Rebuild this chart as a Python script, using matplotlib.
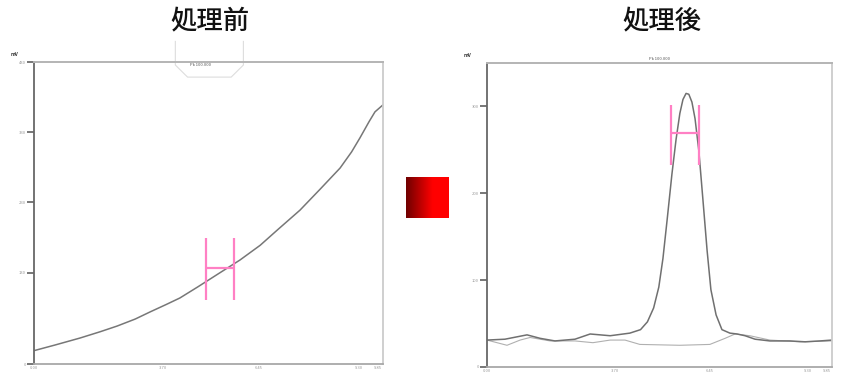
import numpy as np
import matplotlib
matplotlib.use('Agg')
import matplotlib.pyplot as plt
from matplotlib.patches import Polygon
from matplotlib.colors import LinearSegmentedColormap

plt.rcParams['font.family'] = ['Noto Sans CJK JP', 'DejaVu Sans']

# 処理前: 曲線
before_x = [0.0, 0.6, 1.32, 1.9, 2.38, 2.9, 3.32, 3.8, 4.18, 4.7, 5.33, 5.9, 6.48,
            7.0, 7.62, 8.2, 8.77, 9.1, 9.34, 9.6, 9.77, 10.0]
before_y = [0.19, 0.27, 0.37, 0.46, 0.54, 0.64, 0.74, 0.85, 0.94, 1.10, 1.30, 1.48, 1.69,
            1.92, 2.19, 2.49, 2.79, 3.02, 3.22, 3.45, 3.59, 3.69]

# 処理後: ピーク曲線とベースライン
after_x = [0.0, 0.52, 1.16, 1.54, 1.97, 2.55, 2.99, 3.57, 4.14, 4.45, 4.65, 4.83, 4.98,
           5.1, 5.22, 5.36, 5.48, 5.59, 5.68, 5.77, 5.85, 5.94, 6.03, 6.14, 6.26, 6.38,
           6.49, 6.64, 6.81, 7.04, 7.25, 7.48, 7.77, 8.2, 8.78, 9.22, 9.65, 10.0]
after_y = [0.31, 0.32, 0.37, 0.33, 0.30, 0.32, 0.38, 0.36, 0.39, 0.43, 0.52, 0.68, 0.92,
           1.25, 1.69, 2.22, 2.62, 2.92, 3.08, 3.15, 3.14, 3.05, 2.86, 2.49, 1.92, 1.34,
           0.89, 0.60, 0.43, 0.39, 0.38, 0.36, 0.32, 0.30, 0.30, 0.29, 0.30, 0.31]
base_x = [0.0, 0.29, 0.58, 0.96, 1.25, 1.83, 2.55, 3.07, 3.57, 4.0, 4.43, 5.59, 6.46,
          6.9, 7.19, 7.62, 8.2, 9.07, 10.0]
base_y = [0.31, 0.28, 0.25, 0.31, 0.34, 0.30, 0.30, 0.28, 0.31, 0.31, 0.26, 0.25, 0.26,
          0.33, 0.38, 0.36, 0.31, 0.29, 0.30]

# H型マーカー (左x, 右x, 下y, 上y, 横線y)
before_h = [4.93, 5.73, 0.91, 1.79, 1.36]
after_h = [5.33, 6.14, 2.32, 3.02, 2.69]

xticks = [0.0, 3.7, 6.45, 9.3, 9.85]
xtick_labels = ['0.00', '3.70', '6.45', '9.30', '9.85']
before_yticks = [0, 1.3, 2.3, 3.3, 4.3]
after_yticks = [0, 1, 2, 3]

fig = plt.figure(figsize=(8.42, 3.79), dpi=100)
fig.patch.set_facecolor('white')

ax1 = fig.add_axes([34/842, 1-364/379, 349/842, 302/379])
ax2 = fig.add_axes([487/842, 1-367/379, 345/842, 304/379])


def style_axes(ax, yticks, ylim):
    ax.set_xlim(0, 10)
    ax.set_ylim(*ylim)
    ax.set_xticks(xticks)
    ax.set_xticklabels(xtick_labels)
    ax.set_yticks(yticks)
    ax.set_yticklabels(['%g' % (t * 100) for t in yticks])
    ax.tick_params(axis='y', length=5, width=1.2, color='#606060',
                   labelsize=3, labelcolor='#999999', pad=1)
    ax.tick_params(axis='x', length=0, labelsize=3, labelcolor='#999999', pad=1.5)
    ax.spines['left'].set_color('#686868')
    ax.spines['left'].set_linewidth(1.3)
    ax.spines['top'].set_color('#b4b4b4')
    ax.spines['top'].set_linewidth(1.4)
    ax.spines['right'].set_color('#cccccc')
    ax.spines['right'].set_linewidth(1.3)
    ax.spines['bottom'].set_color('#a8a8a8')
    ax.spines['bottom'].set_linewidth(1.3)
    ax.text(-0.057, 1.015, 'mV', transform=ax.transAxes, fontsize=3.5,
            color='#333333', ha='center', va='bottom', fontweight='bold')


def draw_h(ax, h):
    xl, xr, yb, yt, ym = h
    ax.vlines([xl, xr], yb, yt, color='#ff80c4', lw=1.6)
    ax.hlines(ym, xl, xr, color='#ff80c4', lw=1.6)


# 処理前
style_axes(ax1, before_yticks, (0, 4.3))
ax1.plot(before_x, before_y, color='#777777', lw=1.1)
draw_h(ax1, before_h)
ax1.text(0.476, 0.985, 'Pk 100.000', transform=ax1.transAxes, fontsize=3,
         color='#555555', ha='center', va='bottom')
callout = Polygon([(0.405, 1.07), (0.405, 0.99), (0.44, 0.95), (0.565, 0.95),
                   (0.60, 0.99), (0.60, 1.07)], closed=False, fill=False,
                  edgecolor='#dddddd', lw=0.8, transform=ax1.transAxes, clip_on=False)
ax1.add_patch(callout)

# 処理後
style_axes(ax2, after_yticks, (0, 3.5))
ax2.plot(base_x, base_y, color='#b0b0b0', lw=0.8)
ax2.plot(after_x, after_y, color='#707070', lw=1.1)
draw_h(ax2, after_h)
ax2.text(0.50, 1.008, 'Pk 100.000', transform=ax2.transAxes, fontsize=3,
         color='#555555', ha='center', va='bottom')

# タイトル
fig.text(210/842, 1-22/379, '処理前', fontsize=19, fontweight='medium',
         ha='center', va='center', color='#111111')
fig.text(662/842, 1-22/379, '処理後', fontsize=19, fontweight='medium',
         ha='center', va='center', color='#111111')

# 中央の赤いグラデーション
axg = fig.add_axes([406/842, 1-218/379, 43/842, 41/379])
grad = np.clip(np.linspace(0.0, 1.6, 64), 0, 1)[None, :]
reds = LinearSegmentedColormap.from_list('reds', ['#700000', '#ff0000'])
axg.imshow(grad, aspect='auto', cmap=reds, vmin=0, vmax=1)
axg.axis('off')

fig.savefig('out.png', dpi=100, facecolor='white')
